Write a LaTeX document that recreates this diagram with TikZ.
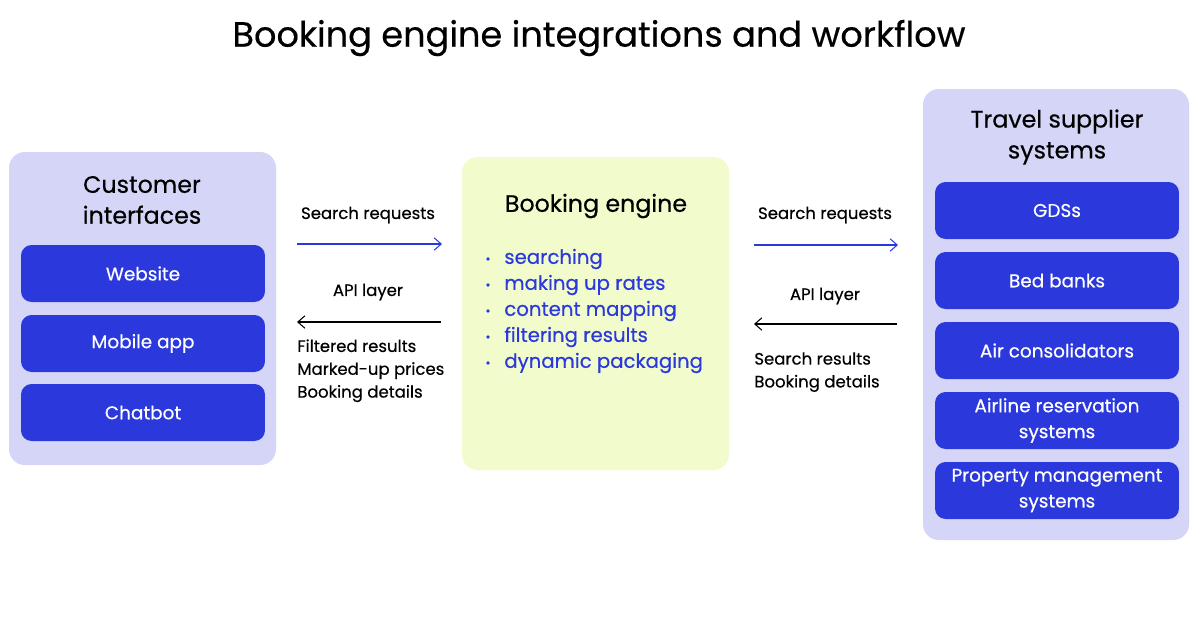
\documentclass[tikz,border=0pt]{standalone}
\usepackage{fontspec}
\setmainfont{Poppins}[FakeBold=0.4]
\usetikzlibrary{arrows.meta}
\definecolor{panel}{HTML}{D5D6F7}
\definecolor{bblue}{HTML}{2B39DC}
\definecolor{green}{HTML}{F1FBCC}
\tikzset{
 panelbox/.style={fill=panel,rounded corners=9pt},
 bluebox/.style={fill=bblue,rounded corners=6pt,minimum width=4.88cm,minimum height=1.14cm,text=white,font=\fontsize{10.5}{14.7}\selectfont,align=center,inner sep=0pt},
 head/.style={font=\fontsize{13.5}{17.6}\selectfont,align=center},
 lbl/.style={font=\fontsize{9.4}{13}\selectfont},
 bul/.style={font=\fontsize{11.2}{13}\selectfont,text=bblue,anchor=west,inner sep=0pt},
 arr/.style={-{Straight Barb[length=4pt,width=7pt]},line width=0.6pt}
}
\begin{document}
\begin{tikzpicture}[x=0.02cm,y=-0.02cm]
\useasboundingbox[fill=white] (0,0) rectangle (1200,630);
\node (title) [font=\fontsize{20}{24}\selectfont] at (599,38) {Booking engine integrations and workflow};
% left
\fill[panelbox] (9,152) rectangle (276,465);
\node (lh) [head] at (142,200) {Customer\\interfaces};
\node (web) [bluebox] at (143,273.5) {Website};
\node (mob) [bluebox] at (143,343.5) {Mobile app};
\node (chat) [bluebox] at (143,412.5) {Chatbot};
% center
\fill[green,rounded corners=9pt] (462,157) rectangle (729,470);
\node (ch) [head] at (596,206) {Booking engine};
\foreach \t [count=\i] in {searching,making up rates,content mapping,filtering results,dynamic packaging}{
 \node (b\i) [bul] at (504,233+26*\i) {\t};
 \fill[bblue] (488,233+26*\i) circle (1.8);
}
% right
\fill[panelbox] (923,89) rectangle (1189,540);
\node (rh) [head] at (1057,137) {Travel supplier\\systems};
\node (gds) [bluebox] at (1057,210.5) {GDSs};
\node (bed) [bluebox] at (1057,280.5) {Bed banks};
\node (air) [bluebox] at (1057,350.5) {Air consolidators};
\node (ars) [bluebox] at (1057,420.5) {Airline reservation\\systems};
\node (pms) [bluebox] at (1057,490.5) {Property management\\systems};
% left arrows
\coordinate (la1) at (297,244); \coordinate (la2) at (442,244);
\coordinate (la3) at (441,322); \coordinate (la4) at (297,322);
\draw[arr,bblue] (la1) -- (la2);
\draw[arr] (la3) -- (la4);
\node (ls) [lbl] at (368,215) {Search requests};
\node (la) [lbl] at (368,292) {API layer};
\node (lr) [lbl,anchor=north west,align=left,inner sep=0pt] at (297,339) {Filtered results\\Marked-up prices\\Booking details};
% right arrows
\coordinate (ra1) at (754,245); \coordinate (ra2) at (898,245);
\coordinate (ra3) at (897,324); \coordinate (ra4) at (754,324);
\draw[arr,bblue] (ra1) -- (ra2);
\draw[arr] (ra3) -- (ra4);
\node (rs) [lbl] at (825,215) {Search requests};
\node (ra) [lbl] at (825,296) {API layer};
\node (rr) [lbl,anchor=north west,align=left,inner sep=0pt] at (754,352) {Search results\\Booking details};
\end{tikzpicture}
\end{document}
